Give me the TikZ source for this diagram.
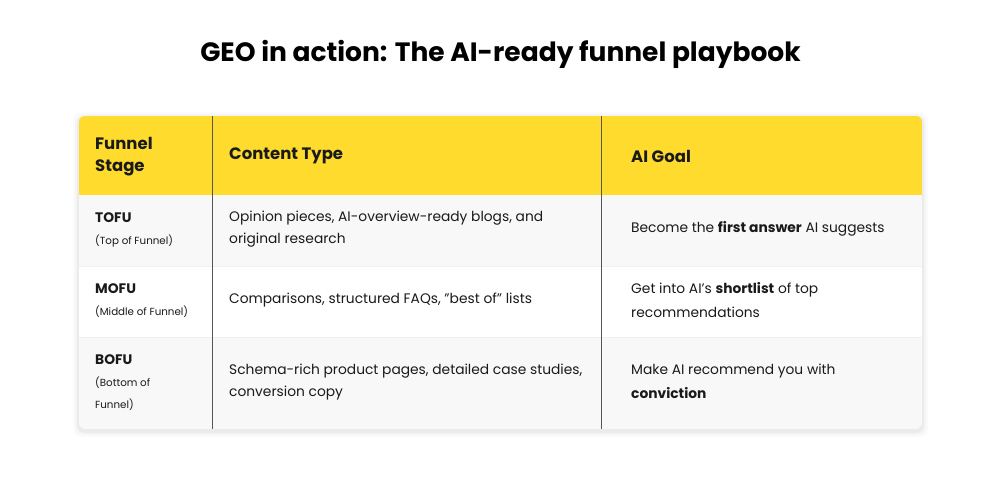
\documentclass[tikz,border=0pt]{standalone}
\usepackage{fontspec}
\setmainfont{Poppins}
\definecolor{yel}{HTML}{FFDB2E}
\definecolor{rowg}{HTML}{F8F8F8}
\definecolor{txt}{HTML}{1A1A1A}
\definecolor{divl}{HTML}{555555}
\begin{document}
\begin{tikzpicture}[x=1pt,y=-1pt,
  cell/.style={anchor=west,inner sep=0pt,text=txt,font=\fontsize{13.8}{16}\selectfont},
  small/.style={anchor=west,inner sep=0pt,text=txt,font=\fontsize{10.3}{12}\selectfont},
  head/.style={anchor=west,inner sep=0pt,text=txt,font=\fontsize{16.5}{18}\selectfont\bfseries}]
\useasboundingbox[fill=white] (0,0) rectangle (1001,478);
\node[inner sep=0pt,font=\fontsize{26.5}{30}\selectfont\bfseries,text=black] (title) at (500.5,54) {GEO in action: The AI-ready funnel playbook};
% shadow
\foreach \i/\o in {6/0.015,4/0.025,2/0.04}{
  \fill[black,opacity=\o,rounded corners=8] (79-\i,116-\i+2) rectangle (922+\i,429+\i+2);}
\begin{scope}
\clip[rounded corners=6] (79,116) rectangle (922,429);
\fill[yel] (79,116) rectangle (922,195);
\fill[rowg] (79,195) rectangle (922,266);
\fill[white] (79,266) rectangle (922,337);
\fill[rowg] (79,337) rectangle (922,429);
\end{scope}
\draw[black!6,line width=0.8] (79,266) -- (922,266) (79,337) -- (922,337);
\draw[divl,line width=0.8] (212,116) -- (212,429) (601,116) -- (601,429);
% header
\node[head] (h1a) at (95,143) {Funnel};
\node[head] (h1b) at (95,168) {Stage};
\node[head] (h2) at (229,156) {Content Type};
\node[head] (h3) at (631,156) {AI Goal};
% row 1
\node[cell,font=\fontsize{13.8}{16}\selectfont\bfseries] (r1a) at (95,218) {TOFU};
\node[small] (r1b) at (95,241) {(Top of Funnel)};
\node[cell] (r1c) at (229,218) {Opinion pieces, AI-overview-ready blogs, and};
\node[cell] (r1d) at (229,240) {original research};
\node[cell] (r1e) at (631,229) {Become the \textbf{first answer} AI suggests};
% row 2
\node[cell,font=\fontsize{13.8}{16}\selectfont\bfseries] (r2a) at (95,289) {MOFU};
\node[small] (r2b) at (95,312) {(Middle of Funnel)};
\node[cell] (r2c) at (229,300) {Comparisons, structured FAQs, \char"22 best of\char"22\ lists};
\node[cell] (r2d) at (631,290) {Get into AI\char"27 s \textbf{shortlist} of top};
\node[cell] (r2e) at (631,312) {recommendations};
% row 3
\node[cell,font=\fontsize{13.8}{16}\selectfont\bfseries] (r3a) at (95,360) {BOFU};
\node[small] (r3b) at (95,383) {(Bottom of};
\node[small] (r3c) at (95,405) {Funnel)};
\node[cell] (r3d) at (229,371) {Schema-rich product pages, detailed case studies,};
\node[cell] (r3e) at (229,393) {conversion copy};
\node[cell] (r3f) at (631,371) {Make AI recommend you with};
\node[cell,font=\fontsize{13.8}{16}\selectfont\bfseries] (r3g) at (631,393) {conviction};
\end{tikzpicture}
\end{document}
